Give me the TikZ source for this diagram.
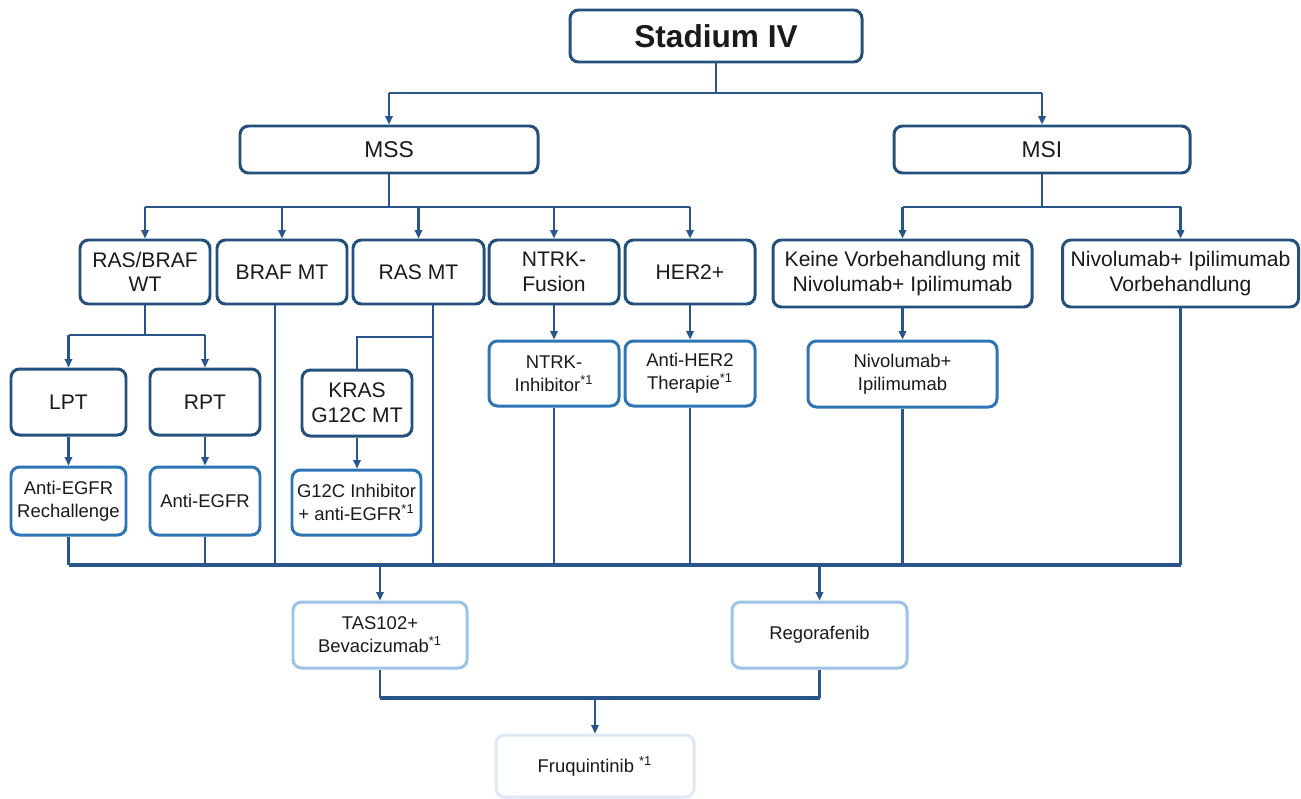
\documentclass[tikz,border=0pt]{standalone}
\usepackage{fontspec}
\setmainfont{Liberation Sans}
\usetikzlibrary{arrows.meta,calc}
\definecolor{dk}{HTML}{24507E}
\definecolor{md}{HTML}{2E75B6}
\definecolor{lt}{HTML}{9DC3E6}
\definecolor{vl}{HTML}{DDEAF6}
\definecolor{ln}{HTML}{29558A}
\definecolor{tx}{HTML}{1A1A1A}
\begin{document}
\begin{tikzpicture}[x=0.02cm,y=-0.02cm,
  box/.style={draw=dk, line width=1.7pt, rounded corners=0.17cm, fill=white, align=center, inner sep=1pt, text=tx},
  sz/.style 2 args={minimum width=#1*0.02cm, minimum height=#2*0.02cm},
  big/.style={font=\fontsize{12}{14}\selectfont},
  mid/.style={font=\fontsize{13}{15}\selectfont},
  sml/.style={font=\fontsize{10.5}{13}\selectfont},
  lvA/.style={box, big},
  lvB/.style={box, draw=md, sml},
  lvC/.style={box, draw=lt, sml},
  lvD/.style={box, draw=vl, sml},
  wline/.style={draw=ln, line width=1.2pt},
  arr/.style={wline, -{Triangle[length=0.17cm,width=0.15cm]}},
  bus/.style={draw=ln, line width=1.8pt},
]
\useasboundingbox (0,0) rectangle (1301,798);

% top
\node[box, sz={292}{52}, font=\fontsize{18}{20}\selectfont\bfseries] (stadium) at (716,36) {Stadium IV};
\node[box, mid, sz={298}{47}] (mss) at (389,149.5) {MSS};
\node[box, mid, sz={296}{47}] (msi) at (1042,149.5) {MSI};

% row 3
\node[lvA, sz={130}{64}] (rasbraf) at (145,272) {RAS/BRAF\\WT};
\node[lvA, sz={130}{64}] (braf) at (282,272) {BRAF MT};
\node[lvA, sz={131}{64}] (ras) at (418.5,272) {RAS MT};
\node[lvA, sz={130}{64}] (ntrk) at (554,272) {NTRK-\\Fusion};
\node[lvA, sz={130}{64}] (her2) at (690,272) {HER2+};
\node[lvA, sz={259}{67}] (keine) at (902.5,273.5) {Keine Vorbehandlung mit\\Nivolumab+ Ipilimumab};
\node[lvA, sz={236}{67}] (nivovor) at (1180.5,273.5) {Nivolumab+ Ipilimumab\\Vorbehandlung};

% row 4
\node[lvA, sz={115}{66}] (lpt) at (68.5,402) {LPT};
\node[lvA, sz={110}{66}] (rpt) at (205,402) {RPT};
\node[lvA, sz={110}{66}] (kras) at (357,403) {KRAS\\G12C MT};
\node[lvB, sz={130}{65}] (ntrki) at (554,373.5) {NTRK-\\Inhibitor\textsuperscript{*1}};
\node[lvB, sz={130}{65}] (her2t) at (690,373.5) {Anti-HER2\\Therapie\textsuperscript{*1}};
\node[lvB, sz={189}{66}] (nivo) at (902.5,374) {Nivolumab+\\Ipilimumab};

% row 5
\node[lvB, sz={115}{68}] (egfrR) at (68.5,501) {Anti-EGFR\\Rechallenge};
\node[lvB, sz={110}{68}] (egfr) at (205,501) {Anti-EGFR};
\node[lvB, sz={129}{65}] (g12c) at (356.5,502.5) {G12C Inhibitor\\+ anti-EGFR\textsuperscript{*1}};

% bottom
\node[lvC, sz={174}{66}] (tas) at (380,635) {TAS102+\\Bevacizumab\textsuperscript{*1}};
\node[lvC, sz={175}{66}] (rego) at (819.5,635) {Regorafenib};
\node[lvD, sz={198}{62}] (fruq) at (595,766) {Fruquintinib \textsuperscript{*1}};

% bus coordinates
\coordinate (b0) at (716,93);
\coordinate (b1) at (0,207);
\coordinate (b2) at (0,335);
\coordinate (b3) at (0,337);
\coordinate (b4) at (0,565);
\coordinate (b5) at (0,698);

% Stadium -> MSS/MSI
\draw[wline] (stadium.south) -- (b0);
\draw[wline] (mss.north |- b0) -- (msi.north |- b0);
\draw[arr] (mss.north |- b0) -- (mss.north);
\draw[arr] (msi.north |- b0) -- (msi.north);

% MSS -> row 3
\draw[wline] (mss.south) -- (mss.south |- b1);
\draw[wline] (rasbraf.north |- b1) -- (her2.north |- b1);
\foreach \n in {rasbraf,braf,ras,ntrk,her2}
  \draw[arr] (\n.north |- b1) -- (\n.north);

% MSI -> row 3
\draw[wline] (msi.south) -- (msi.south |- b1);
\draw[wline] (keine.north |- b1) -- (nivovor.north |- b1);
\draw[arr] (keine.north |- b1) -- (keine.north);
\draw[arr] (nivovor.north |- b1) -- (nivovor.north);

% RAS/BRAF WT -> LPT/RPT
\draw[wline] (rasbraf.south) -- (rasbraf.south |- b2);
\draw[wline] (lpt.north |- b2) -- (rpt.north |- b2);
\draw[arr] (lpt.north |- b2) -- (lpt.north);
\draw[arr] (rpt.north |- b2) -- (rpt.north);

% direct arrows
\draw[arr] (lpt.south) -- (egfrR.north);
\draw[arr] (rpt.south) -- (egfr.north);
\draw[arr] (kras.south) -- (kras.south |- g12c.north);
\draw[arr] (ntrk.south) -- (ntrki.north);
\draw[arr] (her2.south) -- (her2t.north);
\draw[arr] (keine.south) -- (nivo.north);

% RAS MT line with branch to KRAS
\coordinate (rasx) at ($(ras.south)+(14.5,0)$);
\draw[wline] (rasx) -- (rasx |- b4);
\draw[wline] (rasx |- b3) -- (kras.north |- b3) -- (kras.north);

% BRAF MT line
\coordinate (brafx) at ($(braf.south)+(-7,0)$);
\draw[wline] (brafx) -- (brafx |- b4);

% lines down to collector
\foreach \n in {egfrR,egfr,ntrki,her2t,nivo,nivovor}
  \draw[wline] (\n.south) -- (\n.south |- b4);

% collector bus
\draw[bus] (egfrR.south |- b4) -- (nivovor.south |- b4);
\draw[arr] (tas.north |- b4) -- (tas.north);
\draw[arr] (rego.north |- b4) -- (rego.north);

% TAS/Rego -> Fruquintinib
\draw[wline] (tas.south) -- (tas.south |- b5);
\draw[wline] (rego.south) -- (rego.south |- b5);
\draw[bus] (tas.south |- b5) -- (rego.south |- b5);
\draw[arr] (fruq.north |- b5) -- (fruq.north);
\end{tikzpicture}
\end{document}
